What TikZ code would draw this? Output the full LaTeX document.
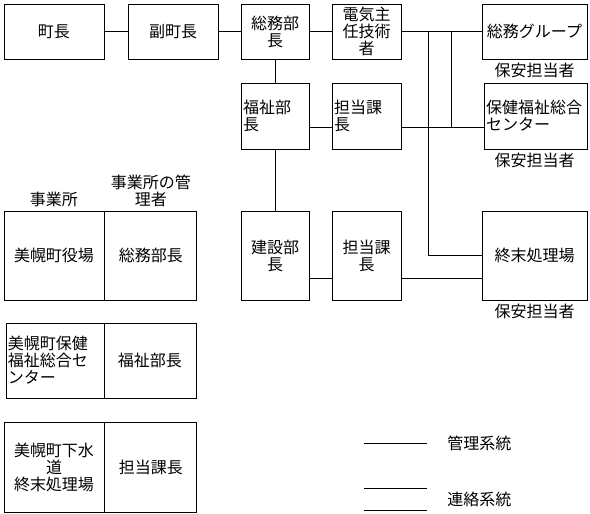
\documentclass[tikz,border=0pt]{standalone}
\usepackage{fontspec}
\newfontfamily\jpfont{Noto Sans CJK JP}
\usetikzlibrary{positioning}
\tikzset{
  box/.style  = {rectangle, draw, inner sep=2pt, align=center,
                 font=\jpfont\fontsize{16}{17}\selectfont},
  cell/.style = {box},
  lbl/.style  = {inner sep=0pt, align=center,
                 font=\jpfont\fontsize{16}{17}\selectfont}
}
\begin{document}
\begin{tikzpicture}[x=1pt,y=-1pt,line width=0.9pt]
  \useasboundingbox (0,0) rectangle (590,514);
  % organisation
  \node[box,text width=96pt,minimum height=55pt] (chou) at (54,31.5) {町長};
  \node[box,text width=86pt,minimum height=55pt] (fukuchou) at (173,31.5) {副町長};
  \node[box,text width=64pt,minimum height=55pt] (soumubu) at (275,31.5) {総務部\\長};
  \node[box,text width=65pt,minimum height=55pt] (denki) at (366.5,31.5) {電気主\\任技術\\者};
  \node[box,text width=101pt,minimum height=55pt] (soumugr) at (534.5,31.5) {総務グループ};
  \node[lbl,below=3pt of soumugr] (hoan1) {保安担当者};
  \node[box,align=left,text width=64pt,minimum height=66pt] (fukushi) at (275,116) {福祉部\\長};
  \node[box,align=left,text width=65pt,minimum height=66pt] (tantou1) at (366.5,116) {担当課\\長};
  \node[box,align=left,text width=99pt,minimum height=66pt] (hoken) at (535.5,116) {保健福祉総合\\センター};
  \node[lbl,below=3pt of hoken.south-|soumugr.south] (hoan2) {保安担当者};
  \node[box,text width=64pt,minimum height=89pt] (kensetsu) at (275,255.5) {建設部\\長};
  \node[box,text width=65pt,minimum height=89pt] (tantou2) at (366.5,255.5) {担当課\\長};
  \node[box,text width=101pt,minimum height=89pt] (shumatsu) at (534.5,255.5) {終末処理場};
  \node[lbl,below=3pt of shumatsu] (hoan3) {保安担当者};
  \draw (chou) -- (fukuchou);
  \draw (fukuchou) -- (soumubu);
  \draw (soumubu) -- (denki);
  \draw (denki) -- (soumugr);
  \draw (soumubu) -- (fukushi);
  \draw (fukushi) -- (kensetsu);
  \draw ([yshift=-11pt]fukushi.east) -- ([yshift=-11pt]tantou1.west);
  \draw ([yshift=-11pt]tantou1.east) -- ([yshift=-11pt]hoken.west);
  \draw ([yshift=-22.5pt]kensetsu.east) -- ([yshift=-22.5pt]tantou2.west);
  \draw ([yshift=-22.5pt]tantou2.east) -- ([yshift=-22.5pt]shumatsu.west);
  \coordinate (bra) at (428,31.5);
  \coordinate (brb) at (451,31.5);
  \coordinate (hk) at ([yshift=-11pt]hoken.west);
  \draw (bra) |- (shumatsu.west);
  \draw (brb) -- (brb |- hk);
  % table
  \node[cell,text width=96pt,minimum height=89pt] (office1) at (54,255.5) {美幌町役場};
  \node[cell,text width=88pt,minimum height=89pt,right=0pt of office1] (mgr1) {総務部長};
  \node[cell,align=left,text width=94pt,minimum height=75pt] (office2) at (55,360.5) {美幌町保健\\福祉総合セ\\ンター};
  \node[cell,text width=88pt,minimum height=75pt] (mgr2) at (150,360.5) {福祉部長};
  \node[cell,text width=96pt,minimum height=90pt] (office3) at (54,467) {美幌町下水\\道\\終末処理場};
  \node[cell,text width=88pt,minimum height=90pt,right=0pt of office3] (mgr3) {担当課長};
  \node[lbl,above=3pt of office1] (hdoffice) {事業所};
  \node[lbl,above=3pt of mgr1] (hdmgr) {事業所の管\\理者};
  % legend
  \coordinate (lga) at (364,443);
  \coordinate (lgb) at (427,443);
  \draw (lga) -- (lgb);
  \node[lbl,right=20pt of lgb] (kanri) {管理系統};
  \draw (364,488) -- (427,488) (364,510) -- (427,510);
  \coordinate (lgc) at (427,499);
  \node[lbl,right=20pt of lgc] (renraku) {連絡系統};
\end{tikzpicture}
\end{document}
